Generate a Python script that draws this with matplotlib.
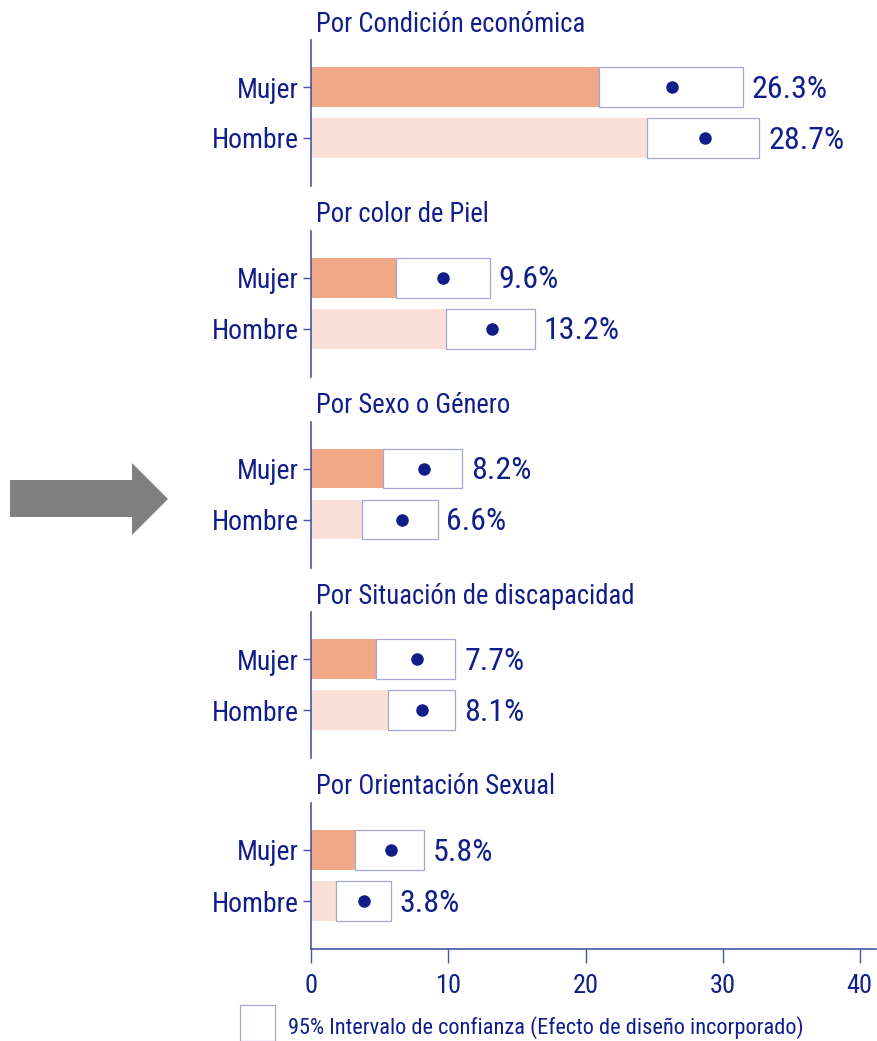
import matplotlib.pyplot as plt
from matplotlib.patches import Rectangle, Polygon

# Datos (porcentajes e intervalos de confianza al 95%)
grupos = ['Por Condición económica', 'Por color de Piel', 'Por Sexo o Género',
          'Por Situación de discapacidad', 'Por Orientación Sexual']
sexos = ['Mujer', 'Hombre']
est_mujer = [26.3, 9.6, 8.2, 7.7, 5.8]
est_hombre = [28.7, 13.2, 6.6, 8.1, 3.8]
li_mujer = [21.0, 6.2, 5.2, 4.7, 3.2]
ls_mujer = [31.5, 13.0, 11.0, 10.5, 8.2]
li_hombre = [24.5, 9.8, 3.7, 5.6, 1.8]
ls_hombre = [32.7, 16.3, 9.2, 10.5, 5.8]
x_ticks = [0, 10, 20, 30, 40]
leyenda = '95% Intervalo de confianza (Efecto de diseño incorporado)'

AZUL = '#111e8a'
EJE = '#4a55a8'
BORDE = '#a3a7d3'
C_MUJER = '#f1a886'
C_HOMBRE = '#fbe0d7'

plt.rcParams['font.family'] = ['Roboto Condensed', 'DejaVu Sans']

W, H = 878, 1041
fig = plt.figure(figsize=(W / 100, H / 100), dpi=100)

x0 = 311.5
x1 = 876
px_unit = 13.7
xmax = (x1 - x0) / px_unit

for i, grupo in enumerate(grupos):
    top = 40 + 190.75 * i
    alto = 146
    ax = fig.add_axes([x0 / W, 1 - (top + alto) / H, (x1 - x0) / W, alto / H])

    lis = [li_mujer[i], li_hombre[i]]
    lss = [ls_mujer[i], ls_hombre[i]]
    ests = [est_mujer[i], est_hombre[i]]
    colores = [C_MUJER, C_HOMBRE]

    for y, (li, ls, est, col) in enumerate(zip(lis, lss, ests, colores)):
        ax.barh(y, li, height=0.78, color=col, zorder=1)
        ax.barh(y, ls - li, left=li, height=0.78, facecolor='white',
                edgecolor=BORDE, linewidth=0.9, zorder=2)
        ax.plot(est, y, 'o', color=AZUL, markersize=8, zorder=3)
        ax.text(ls + 0.65, y + 0.04, f'{est:.1f}%', va='center', ha='left',
                fontsize=23, color=AZUL)

    ax.set_xlim(0, xmax)
    ax.set_ylim(1 + 48 / 51, -47 / 51)
    ax.set_yticks([0, 1])
    ax.set_yticklabels(sexos, fontsize=20, color=AZUL)
    ax.tick_params(axis='y', length=6, color=EJE, width=1, pad=3)

    for s in ['top', 'right']:
        ax.spines[s].set_visible(False)
    ax.spines['left'].set_color(EJE)
    ax.spines['left'].set_linewidth(1.2)

    if i == len(grupos) - 1:
        ax.spines['bottom'].set_color(EJE)
        ax.spines['bottom'].set_linewidth(1.2)
        ax.set_xticks(x_ticks)
        ax.set_xticklabels([str(t) for t in x_ticks], fontsize=19, color=AZUL)
        ax.tick_params(axis='x', length=10, color=EJE, width=1, pad=8)
    else:
        ax.spines['bottom'].set_visible(False)
        ax.set_xticks([])

    ax.text(4.5 / (x1 - x0), 1 + 16 / alto, grupo, transform=ax.transAxes,
            ha='left', va='center', fontsize=19.2, color=AZUL)

# Flecha gris
pts = [(10, 480), (132, 480), (132, 463), (168, 499), (132, 535), (132, 517), (10, 517)]
flecha = Polygon([(x / W, 1 - y / H) for x, y in pts], closed=True,
                 transform=fig.transFigure, facecolor='#808080', edgecolor='none')
fig.patches.append(flecha)

# Leyenda
caja = Rectangle((240 / W, 1 - 1041 / H), 35 / W, 36 / H, transform=fig.transFigure,
                 facecolor='white', edgecolor=BORDE, linewidth=0.9)
fig.patches.append(caja)
fig.text(288 / W, 1 - 1028 / H, leyenda, ha='left', va='center',
         fontsize=16.1, color=AZUL)

fig.savefig('out.png', dpi=100)
